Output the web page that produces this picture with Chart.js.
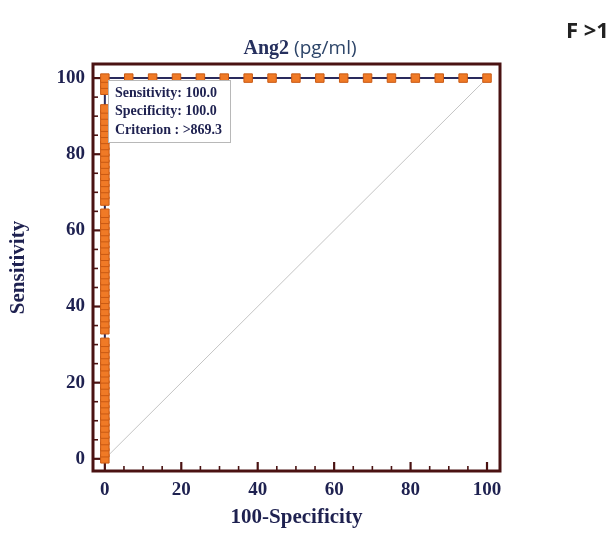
<!DOCTYPE html>
<html>
<head>
<meta charset="utf-8">
<script src="https://cdn.jsdelivr.net/npm/chart.js@4.4.1/dist/chart.umd.min.js"></script>
<style>
  body { margin: 0; background: #fff; }
  #wrap { position: relative; width: 616px; height: 533px; }
  #title { position: absolute; left: 0; width: 600px; top: 34px; text-align: center; color: #26305e; font-size: 20px; }
  #title .a { font-family: "Liberation Serif", serif; font-weight: bold; }
  #title .b { font-family: "Open Sans", sans-serif; color: #2c4468; font-size: 19px; }
  #corner { position: absolute; left: 566px; top: 14px; font-family: "Open Sans", sans-serif; font-weight: bold; font-size: 22px; color: #222; white-space: nowrap; }
</style>
</head>
<body>
<div id="wrap">
  <canvas id="roc" width="616" height="533"></canvas>
  <div id="title"><span class="a">Ang2</span> <span class="b">(pg/ml)</span></div>
  <div id="corner">F &gt;1</div>
</div>
<script>
// ROC curve points (100-Specificity, Sensitivity)
const fpr = [0, 0, 0, 0, 0, 0, 0, 0, 0, 0, 0, 0, 0, 0, 0, 0, 0, 0, 0, 0,
             0, 0, 0, 0, 0, 0, 0, 0, 0, 0, 0, 0, 0, 0, 0, 0, 0, 0, 0, 0,
             0, 0, 0, 0, 0, 0, 0, 0, 0, 0, 0, 0, 0, 0, 0, 0, 0, 0, 0,
             6.25, 12.5, 18.75, 25, 31.25, 37.5, 43.75, 50, 56.25, 62.5, 68.75, 75, 81.25, 87.5, 93.75, 100];
const tpr = [0, 1.6, 3.2, 4.8, 6.5, 8.1, 9.7, 11.3, 12.9, 14.5, 16.1, 17.7, 19.4, 21, 22.6, 24.2, 25.8, 27.4, 29, 30.6,
             33.9, 35.5, 37.1, 38.7, 40.3, 41.9, 43.5, 45.2, 46.8, 48.4, 50, 51.6, 53.2, 54.8, 56.5, 58.1, 59.7, 61.3, 62.9, 64.5,
             67.7, 69.4, 71, 72.6, 74.2, 75.8, 77.4, 79, 80.6, 82.3, 83.9, 85.5, 87.1, 88.7, 90.3, 91.9, 96.8, 98.4, 100,
             100, 100, 100, 100, 100, 100, 100, 100, 100, 100, 100, 100, 100, 100, 100, 100];
const refX = [0, 100];
const refY = [0, 100];
const tickLabels = [0, 20, 40, 60, 80, 100];
const infoLines = ['Sensitivity: 100.0', 'Specificity: 100.0', 'Criterion : >869.3'];

const navy = '#1e2150';
const frame = '#4a1212';
const serif = '"Liberation Serif", "Times New Roman", serif';

const rocPoints = fpr.map((x, i) => ({ x: x, y: tpr[i] }));
const refPoints = refX.map((x, i) => ({ x: x, y: refY[i] }));

// frame, inward ticks and the info box
const decor = {
  id: 'decor',
  beforeDatasetsDraw(chart) {
    const { ctx, chartArea: a, scales } = chart;
    ctx.save();
    ctx.strokeStyle = frame;
    for (let v = 0; v <= 100; v += 5) {
      const major = v % 20 === 0;
      const len = major ? 9 : 5;
      ctx.lineWidth = major ? 2.2 : 1.6;
      const px = scales.x.getPixelForValue(v);
      ctx.beginPath();
      ctx.moveTo(px, a.bottom);
      ctx.lineTo(px, a.bottom - len);
      ctx.stroke();
      const py = scales.y.getPixelForValue(v);
      ctx.beginPath();
      ctx.moveTo(a.left, py);
      ctx.lineTo(a.left + len, py);
      ctx.stroke();
    }
    ctx.restore();
  },
  afterDatasetsDraw(chart) {
    const { ctx, chartArea: a } = chart;
    ctx.save();
    ctx.fillStyle = '#fff';
    ctx.strokeStyle = '#b8b8b8';
    ctx.lineWidth = 1;
    ctx.fillRect(108, 80, 122, 62);
    ctx.strokeRect(108.5, 80.5, 122, 62);
    ctx.fillStyle = navy;
    ctx.font = 'bold 14px ' + serif;
    ctx.textBaseline = 'middle';
    infoLines.forEach((t, i) => ctx.fillText(t, 115, 93 + i * 18.5));
    ctx.strokeStyle = frame;
    ctx.lineWidth = 3;
    ctx.strokeRect(a.left, a.top, a.right - a.left, a.bottom - a.top);
    ctx.restore();
  }
};

const axisTick = {
  color: navy,
  font: { family: serif, size: 19, weight: 'bold' },
  padding: 8,
  includeBounds: false,
  stepSize: 20,
  callback: v => tickLabels.includes(v) ? String(v) : ''
};

new Chart(document.getElementById('roc'), {
  type: 'scatter',
  data: {
    datasets: [
      {
        data: rocPoints,
        showLine: true,
        borderColor: '#2a2a5c',
        borderWidth: 2,
        pointStyle: 'rect',
        pointRadius: 6,
        pointBackgroundColor: '#f07a26',
        pointBorderColor: '#c95a14',
        pointBorderWidth: 1,
        order: 1
      },
      {
        data: refPoints,
        showLine: true,
        borderColor: '#c4c4c4',
        borderWidth: 1,
        pointRadius: 0,
        order: 2
      }
    ]
  },
  options: {
    responsive: false,
    animation: false,
    layout: { padding: { top: 64, right: 116, left: 0, bottom: 0 } },
    plugins: { legend: { display: false }, tooltip: { enabled: false } },
    scales: {
      x: {
        type: 'linear',
        min: -3.1,
        max: 103.4,
        grid: { display: false, drawTicks: false },
        border: { display: false },
        ticks: axisTick,
        title: {
          display: true,
          text: '100-Specificity',
          color: navy,
          font: { family: serif, size: 21, weight: 'bold' },
          padding: { top: 4, bottom: 3 }
        },
        afterFit: s => { s.height = 62; }
      },
      y: {
        type: 'linear',
        min: -3.2,
        max: 103.7,
        grid: { display: false, drawTicks: false },
        border: { display: false },
        ticks: axisTick,
        title: {
          display: true,
          text: 'Sensitivity',
          color: navy,
          font: { family: serif, size: 21, weight: 'bold' },
          padding: { top: 6, bottom: 4 }
        },
        afterFit: s => { s.width = 93; }
      }
    }
  },
  plugins: [decor]
});
</script>
</body>
</html>
